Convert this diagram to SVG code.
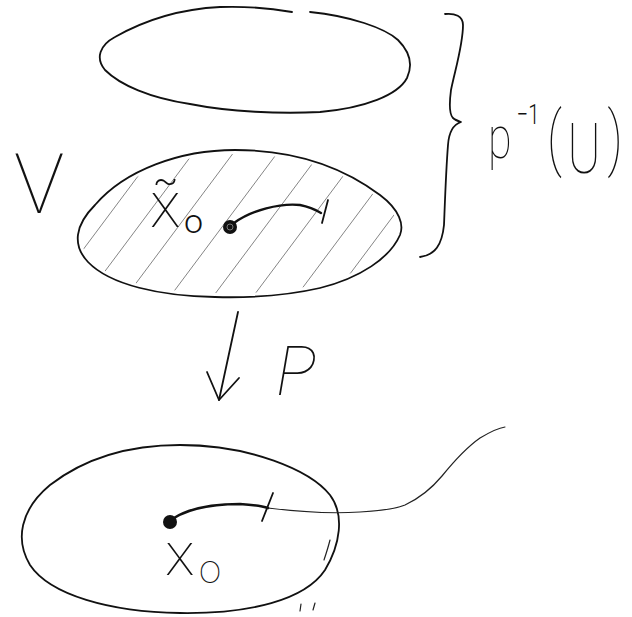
<svg xmlns="http://www.w3.org/2000/svg" width="632" height="617" viewBox="0 0 632 617">
<style>
.ink{fill:none;stroke:#111;stroke-width:1.8;stroke-linecap:round;stroke-linejoin:round}
.thin{fill:none;stroke:#222;stroke-width:1.2;stroke-linecap:round}
.hatch{fill:none;stroke:#666;stroke-width:0.8}
.lbl{font-family:Roboto,"Liberation Sans",sans-serif;font-weight:100;fill:#111}
.sup{font-weight:300}
</style>
<defs>
<clipPath id="clipV"><path d="M 235,154 C 290,154 338,168 377,197 C 396,211 400,225 396,234 C 386,256 357,275 319,284 C 285,292 250,294 215,293 C 161,292 112,282 91,260 C 76,244 79,226 98,207 C 127,173 181,154 235,154 Z"/></clipPath>
</defs>
<rect width="632" height="617" fill="#fff"/>
<g id="sheet-top">
<path class="ink" d="M 310,12 C 350,16 385,28 398,40 C 410,52 413,65 407,78 C 398,95 365,108 320,112 C 280,114 230,112 190,104 C 150,98 120,85 105,70 C 95,58 100,45 115,37 C 145,20 180,9 220,7 C 250,6 275,9 292,12"/>
</g>
<g id="sheet-V">
<g clip-path="url(#clipV)" class="hatch">
<line x1="38" y1="310" x2="165" y2="140"/>
<line x1="76" y1="310" x2="203" y2="140"/>
<line x1="116" y1="310" x2="243" y2="140"/>
<line x1="160" y1="310" x2="287" y2="140"/>
<line x1="203" y1="310" x2="330" y2="140"/>
<line x1="243" y1="310" x2="370" y2="140"/>
<line x1="286" y1="310" x2="413" y2="140"/>
<line x1="323" y1="310" x2="450" y2="140"/>
<line x1="360" y1="310" x2="487" y2="140"/>
</g>
<path class="ink" d="M 235,150 C 290,150 340,165 380,195 C 400,210 404,225 400,235 C 390,258 360,278 320,288 C 285,296 250,298 215,297 C 160,296 110,285 88,262 C 72,245 75,225 95,205 C 125,170 180,150 235,150 Z"/>
<circle cx="230" cy="227" r="7" fill="#111"/>
<circle cx="230" cy="227" r="3" fill="none" stroke="#777" stroke-width="1"/>
<path class="ink" style="stroke-width:2.4" d="M 234,223 C 252,210 280,203 300,205 C 310,207 316,210 321,213"/>
<path class="ink" d="M 328,200 L 322,223"/>
<text class="lbl" x="150" y="227" font-size="64">x̃<tspan class="sup" x="184" y="233" font-size="34">o</tspan></text>
</g>
<g id="brace">
<path class="ink" d="M 445,14 C 455,13 463,16 463,25 C 463,45 455,70 451,90 C 449,105 450,115 453,118 C 455,120 458,121 461,122 C 455,124 449,130 448,145 C 446,170 445,200 444,225 C 442,245 435,255 420,257"/>
<text class="lbl" transform="translate(488,0) scale(0.72,1)" font-size="60"><tspan x="0" y="158">p</tspan><tspan class="sup" x="40" y="124" font-size="28">−1</tspan><tspan x="82" y="162" font-size="70">(</tspan><tspan x="110" y="173" font-size="70">U</tspan><tspan x="166" y="162" font-size="70">)</tspan></text>
</g>
<g id="label-V">
<text class="lbl" x="14" y="213" font-size="84">V</text>
</g>
<g id="connectors">
<path class="ink" d="M 238,312 L 219,400"/>
<path class="ink" d="M 207,372 L 219,400 L 239,378"/>
<text class="lbl" x="276" y="395" font-size="68" font-style="italic">P</text>
</g>
<g id="sheet-U">
<path class="ink" d="M 180,445 C 250,445 310,470 330,495 C 345,515 340,545 325,570 C 305,600 250,614 180,613 C 110,612 50,595 30,565 C 15,540 20,510 50,485 C 85,458 130,445 180,445 Z"/>
<path class="thin" d="M 330,540 C 328,548 326,554 324,560"/>
<circle cx="170" cy="522" r="7" fill="#111"/>
<path class="ink" style="stroke-width:2.6" d="M 174,518 C 190,508 215,504 240,504 C 255,505 262,506 268,508"/>
<path class="ink" d="M 273,493 L 262,521"/>
<path class="thin" d="M 268,508 C 300,512 330,514 360,512 C 380,511 395,509 405,505 C 420,498 432,488 442,476 C 455,460 470,445 480,438 C 490,432 498,428 505,427"/>
<text class="lbl" x="165" y="575" font-size="62">x<tspan x="199" y="583" font-size="40">o</tspan></text>
<path class="thin" d="M 301,604 L 300,611 M 315,603 L 313,610"/>
</g>
</svg>
